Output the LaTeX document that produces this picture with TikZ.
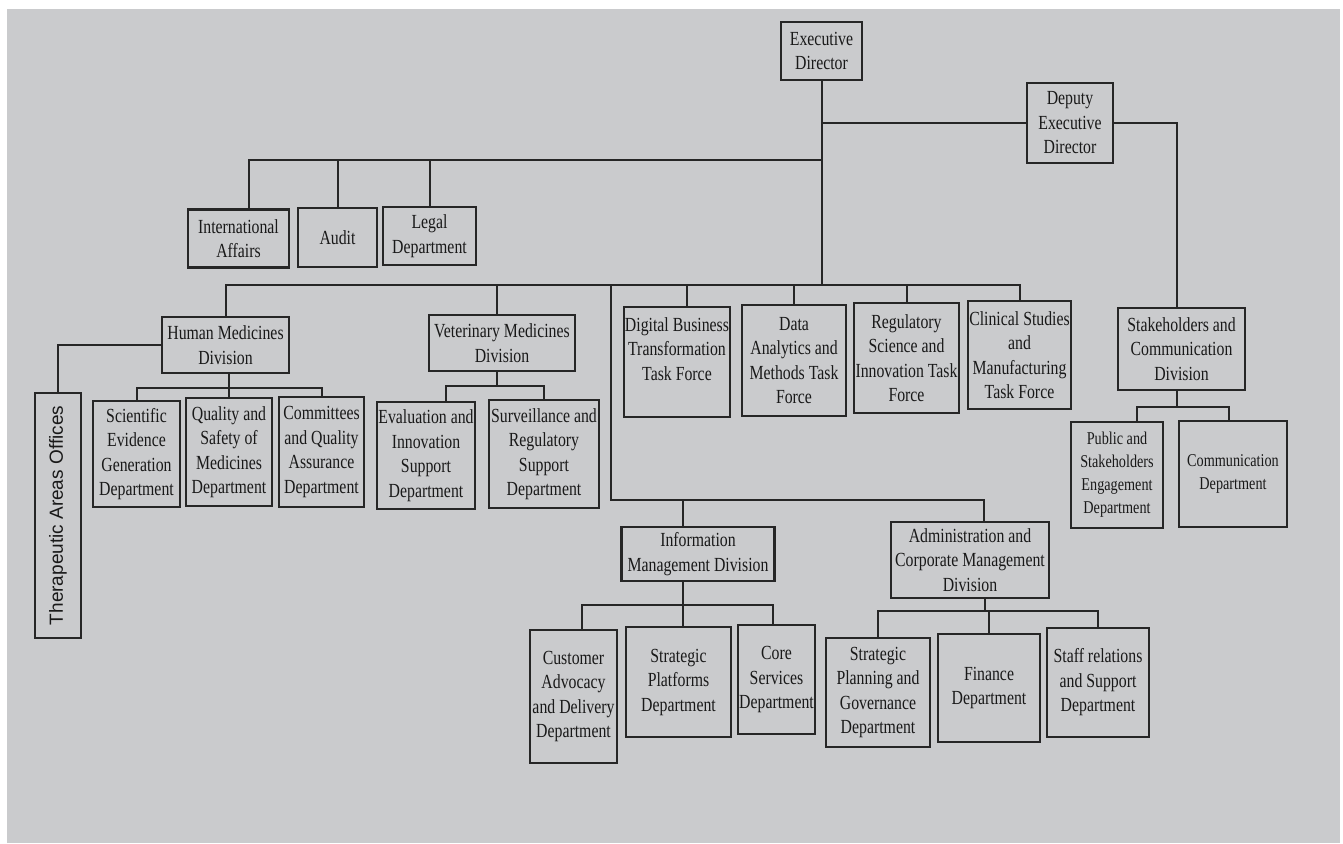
\documentclass[tikz,border=0pt]{standalone}
\usepackage{fontspec}
\setmainfont{Liberation Serif}
\newfontfamily\boxfont[FakeStretch=0.79]{Liberation Serif}
\newfontfamily\sidefont{Liberation Sans}
\usetikzlibrary{positioning}
\definecolor{paper}{RGB}{202,203,205}
\definecolor{ink}{RGB}{38,38,38}

\tikzset{
  unit/.style={draw=ink, line width=2.2pt, align=center, text=black!90, inner sep=1pt,
    font=\boxfont\fontsize{20}{24.5}\selectfont},
  small/.style={font=\boxfont\fontsize{18}{23}\selectfont},
  wire/.style={draw=ink, line width=2pt},
}

\begin{document}
\begin{tikzpicture}[x=1pt,y=-1pt,join=miter] % org chart, pixel coords
  \useasboundingbox (0,0) rectangle (1343,843);
  \fill[white] (0,0) rectangle (1343,843);
  \fill[paper] (7,9) rectangle (1340,843);

  % top level
  \node[unit, minimum width=81pt, minimum height=58pt] (ed) at (821.5,51) {Executive\\Director};
  \node[unit, minimum width=86pt, minimum height=80pt] (ded) at (1070,123) {Deputy\\Executive\\Director};
  \node[unit, minimum width=101pt, minimum height=58pt] (intl) at (238.5,238.5) {International\\Affairs};
  \node[unit, minimum width=79pt, minimum height=59pt] (audit) at (337.5,237.5) {Audit};
  \node[unit, minimum width=93pt, minimum height=58pt] (legal) at (429.5,236) {Legal\\Department};

  % divisions and task forces
  \node[unit, minimum width=127pt, minimum height=56pt] (hum) at (225.5,345) {Human Medicines\\Division};
  \node[unit, minimum width=146pt, minimum height=56pt] (vet) at (502,343) {Veterinary Medicines\\Division};
  \node[unit, minimum width=104pt, minimum height=110pt] (dig) at (677,362) {Digital Business\\Transformation\\Task Force\\[2pt]};
  \node[unit, minimum width=104pt, minimum height=111pt] (data) at (794,360.5) {Data\\Analytics and\\Methods Task\\Force};
  \node[unit, minimum width=105pt, minimum height=110pt] (reg) at (906.5,358) {Regulatory\\Science and\\Innovation Task\\Force};
  \node[unit, minimum width=103pt, minimum height=108pt] (clin) at (1019.5,355) {Clinical Studies\\and\\Manufacturing\\Task Force};
  \node[unit, minimum width=127pt, minimum height=82pt] (stk) at (1181.5,349) {Stakeholders and\\Communication\\Division};
  \node[unit, small, minimum width=92pt, minimum height=106pt] (pub) at (1117,475) {Public and\\Stakeholders\\Engagement\\Department};
  \node[unit, small, minimum width=108pt, minimum height=106pt] (com) at (1233,474) {Communication\\Department};

  % human / veterinary departments
  \node[unit, rotate=90, minimum width=245pt, minimum height=46pt,
    font=\sidefont\fontsize{19}{21}\selectfont] (ther) at (58,515.5) {Therapeutic Areas Offices};
  \node[unit, minimum width=87pt, minimum height=106pt] (sci) at (136.5,454) {Scientific\\Evidence\\Generation\\Department};
  \node[unit, minimum width=86pt, minimum height=108pt] (qual) at (229,452) {Quality and\\Safety of\\Medicines\\Department};
  \node[unit, minimum width=85pt, minimum height=110pt] (comm) at (321.5,452) {Committees\\and Quality\\Assurance\\Department};
  \node[unit, minimum width=98pt, minimum height=107pt] (eval) at (426,455.5) {Evaluation and\\Innovation\\Support\\Department};
  \node[unit, minimum width=110pt, minimum height=108pt] (surv) at (544,454) {Surveillance and\\Regulatory\\Support\\Department};

  % information / administration
  \node[unit, minimum width=153pt, minimum height=54pt] (info) at (698,554) {Information\\Management Division};
  \node[unit, minimum width=158pt, minimum height=76pt] (adm) at (970,560) {Administration and\\Corporate Management\\Division};
  \node[unit, minimum width=87pt, minimum height=133pt] (cust) at (573.5,696.5) {Customer\\Advocacy\\and Delivery\\Department};
  \node[unit, minimum width=105pt, minimum height=110pt] (plat) at (678.5,682) {Strategic\\Platforms\\Department};
  \node[unit, minimum width=73pt, minimum height=109pt] (core) at (776.5,679.5) {Core\\Services\\Department};
  \node[unit, minimum width=104pt, minimum height=109pt] (plan) at (878,692.5) {Strategic\\Planning and\\Governance\\Department};
  \node[unit, minimum width=102pt, minimum height=108pt] (fin) at (989,688) {Finance\\Department};
  \node[unit, minimum width=102pt, minimum height=109pt] (staff) at (1098,682.5) {Staff relations\\and Support\\Department};

  % bus lines
  \coordinate (topbus) at (0,160);
  \coordinate (mainbus) at (0,285);
  \coordinate (split) at (611,500);
  \coordinate (humbus) at (0,388);
  \coordinate (vetbus) at (0,386);
  \coordinate (infobus) at (0,605);
  \coordinate (admbus) at (0,611);
  \coordinate (stkbus) at (0,407);
  \coordinate (stkx) at (1177,0);

  \draw[wire] (ed.south) -- (ed.south |- mainbus);
  \draw[wire] (ed.south |- topbus) -| ([xshift=10pt]intl.north);
  \draw[wire] (audit.north) -- (audit.north |- topbus);
  \draw[wire] (legal.north) -- (legal.north |- topbus);
  \draw[wire] (ed.south |- ded.west) -- (ded.west);
  \draw[wire] (ded.east) -| (stkx |- stk.north);

  \draw[wire] (hum.north) |- (clin.north |- mainbus) -- (clin.north);
  \draw[wire] ([xshift=-5pt]vet.north) -- ([xshift=-5pt]vet.north |- mainbus);
  \draw[wire] ([xshift=10pt]dig.north) -- ([xshift=10pt]dig.north |- mainbus);
  \draw[wire] (data.north) -- (data.north |- mainbus);
  \draw[wire] (reg.north) -- (reg.north |- mainbus);

  \draw[wire] (hum.west) -| (ther.east);
  \draw[wire] ([xshift=3pt]hum.south) -- ([xshift=3pt]hum.south |- humbus);
  \draw[wire] (sci.north) |- (comm.north |- humbus) -- (comm.north);
  \draw[wire] (qual.north) -- (qual.north |- humbus);
  \draw[wire] ([xshift=-5pt]vet.south) -- ([xshift=-5pt]vet.south |- vetbus);
  \draw[wire] ([xshift=20pt]eval.north) |- (surv.north |- vetbus) -- (surv.north);

  \draw[wire] (stkx |- stk.south) -- (stkx |- stkbus);
  \draw[wire] ([xshift=20pt]pub.north) |- ([xshift=-4pt]com.north |- stkbus) -- ([xshift=-4pt]com.north);

  \draw[wire] (split |- mainbus) -- (split) -| ([xshift=14pt]adm.north);
  \draw[wire] ([xshift=-15pt]info.north) -- ([xshift=-15pt]info.north |- split);
  \draw[wire] ([xshift=-15pt]info.south) -- ([xshift=-15pt]info.south |- infobus);
  \draw[wire] ([xshift=8pt]cust.north) |- ([xshift=-4pt]core.north |- infobus) -- ([xshift=-4pt]core.north);
  \draw[wire] ([xshift=4pt]plat.north) -- ([xshift=4pt]plat.north |- infobus);
  \draw[wire] ([xshift=15pt]adm.south) -- ([xshift=15pt]adm.south |- admbus);
  \draw[wire] (plan.north) |- (staff.north |- admbus) -- (staff.north);
  \draw[wire] (fin.north) -- (fin.north |- admbus);
\end{tikzpicture}
\end{document}
